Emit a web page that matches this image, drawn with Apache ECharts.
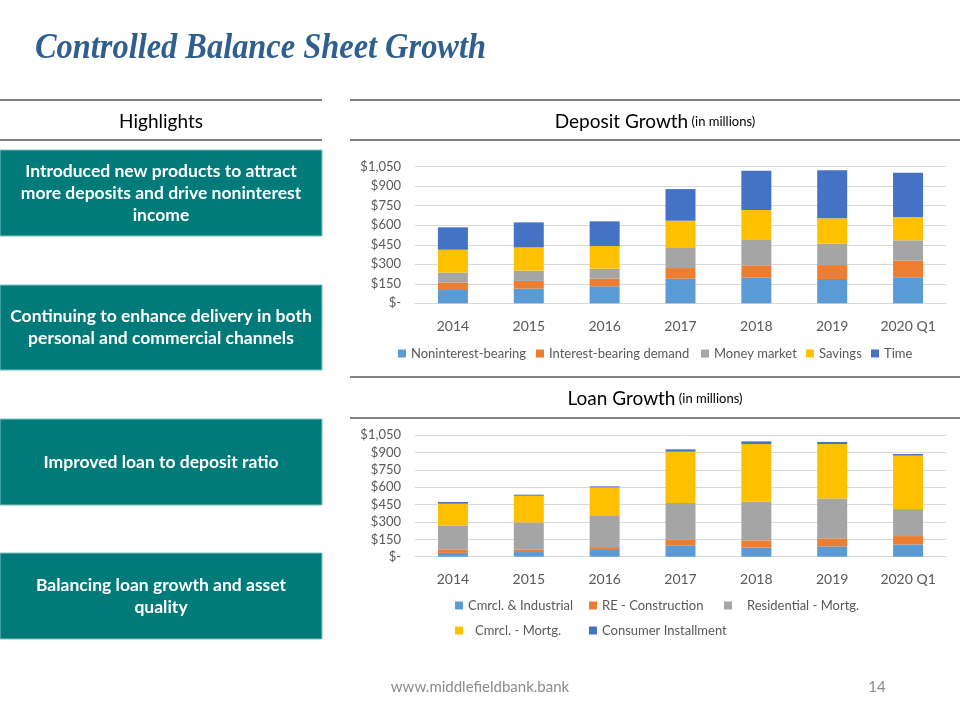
<!DOCTYPE html>
<html><head><meta charset="utf-8">
<script src="https://cdn.jsdelivr.net/npm/echarts@6/dist/echarts.min.js"></script>
<style>html,body{margin:0;padding:0;background:#fff}#c{width:960px;height:720px}</style>
</head><body><div id="c"></div>
<script>
const years = ['2014','2015','2016','2017','2018','2019','2020 Q1'];
const yTicks = [0,150,300,450,600,750,900,1050];

const depositNames = ['Noninterest-bearing','Interest-bearing demand','Money market','Savings','Time'];
const depNoninterest = [102,113,131,189,197,187,200];
const depInterestDemand = [57,59,58,82,95,107,128];
const depMoneyMarket = [77,79,77,154,195,164,156];
const depSavings = [176,179,174,210,230,195,179];
const depTime = [172,192,190,243,302,369,341];

const loanNames = ['Cmrcl. & Industrial','RE - Construction','Residential - Mortg.','Cmrcl. - Mortg.','Consumer Installment'];
const loanCI = [33,40,58,98,78,89,106];
const loanRE = [30,20,25,49,63,69,72];
const loanRes = [207,236,268,316,334,345,233];
const loanCM = [187,230,247,443,497,469,461];
const loanConsumer = [15,9,9,20,23,18,14];

const highlights = [
  'Introduced new products to attract\nmore deposits and drive noninterest\nincome',
  'Continuing to enhance delivery in both\npersonal and commercial channels',
  'Improved loan to deposit ratio',
  'Balancing loan growth and asset\nquality'
];

const colors = ['#5B9BD5','#ED7D31','#A5A5A5','#FFC000','#4472C4'];
const FONT = 'Lato, "Open Sans", sans-serif';

const chart = echarts.init(document.getElementById('c'), null, {renderer:'canvas'});

function yAxis(gi){
  return {type:'value', gridIndex:gi, min:yTicks[0], max:yTicks[yTicks.length-1], interval:yTicks[1]-yTicks[0],
    axisLine:{show:false}, axisTick:{show:false},
    splitLine:{lineStyle:{color:'#D9D9D9', width:1}},
    axisLabel:{color:'#595959', fontFamily:FONT, fontSize:13, margin:14,
      formatter:v => v===0 ? '$-' : '$' + v.toLocaleString('en-US')}};
}
function xAxis(gi){
  return {type:'category', gridIndex:gi, data:years,
    axisLine:{lineStyle:{color:'#D9D9D9'}}, axisTick:{show:false},
    axisLabel:{color:'#595959', fontFamily:FONT, fontSize:14, margin:16}};
}

const depData = [depNoninterest, depInterestDemand, depMoneyMarket, depSavings, depTime];
const loanData = [loanCI, loanRE, loanRes, loanCM, loanConsumer];

const series = [];
depositNames.forEach((n,i)=>series.push({name:n, type:'bar', stack:'dep', xAxisIndex:0, yAxisIndex:0,
  data:depData[i], barWidth:30, itemStyle:{color:colors[i]}}));
loanNames.forEach((n,i)=>series.push({name:n, type:'bar', stack:'loan', xAxisIndex:1, yAxisIndex:1,
  data:loanData[i], barWidth:30, itemStyle:{color:colors[i]}}));

function leg(name, left, top, textPad){
  return {data:[name], left:left, top:top, padding:0, itemWidth:8, itemHeight:8, icon:'rect',
    selectedMode:false,
    textStyle:{color:'#595959', fontFamily:FONT, fontSize:13, padding:[0,0,0,textPad||0]}};
}

const legends = [
  leg(depositNames[0], 398, 347),
  leg(depositNames[1], 536, 347),
  leg(depositNames[2], 701, 347),
  leg(depositNames[3], 806, 347),
  leg(depositNames[4], 871, 347),
  leg(loanNames[0], 455, 599),
  leg(loanNames[1], 589, 599),
  leg(loanNames[2], 724, 599, 10),
  leg(loanNames[3], 455, 624, 7),
  leg(loanNames[4], 589, 624)
];

const boxes = [[150,236],[285,370],[419,505],[553,639]];
const graphic = [];
graphic.push({type:'text', x:35, y:49, scaleX:0.9, style:{text:'Controlled Balance Sheet Growth',
  font:'italic bold 36px "Liberation Serif", "Times New Roman", serif', fill:'#2E5F8F', verticalAlign:'middle'}});
[[0,322],[350,960]].forEach(([a,b])=>{
  [100,140].forEach(y=>graphic.push({type:'line', shape:{x1:a,y1:y,x2:b,y2:y}, style:{stroke:'#595959', lineWidth:1.5}}));
});
[377,418].forEach(y=>graphic.push({type:'line', shape:{x1:350,y1:y,x2:960,y2:y}, style:{stroke:'#595959', lineWidth:1.5}}));
graphic.push({type:'text', x:161, y:122, style:{text:'Highlights', font:'19px '+FONT, fill:'#000', align:'center', verticalAlign:'middle'}});
graphic.push({type:'text', x:655, y:122, style:{text:'{a|Deposit Growth} {b|(in millions)}', align:'center', verticalAlign:'middle',
  rich:{a:{fontFamily:FONT, fontSize:19, fill:'#000'}, b:{fontFamily:FONT, fontSize:13, fill:'#000'}}}});
graphic.push({type:'text', x:655, y:399, style:{text:'{a|Loan Growth} {b|(in millions)}', align:'center', verticalAlign:'middle',
  rich:{a:{fontFamily:FONT, fontSize:19, fill:'#000'}, b:{fontFamily:FONT, fontSize:13, fill:'#000'}}}});
boxes.forEach(([t,b],i)=>{
  graphic.push({type:'rect', shape:{x:0,y:t,width:322,height:b-t}, style:{fill:'#007B7A', stroke:'#7FC4C2', lineWidth:1}});
  graphic.push({type:'text', x:161, y:(t+b)/2, style:{text:highlights[i], font:'bold 17.5px '+FONT, fill:'#fff',
    align:'center', verticalAlign:'middle', lineHeight:22}});
});
graphic.push({type:'text', x:480, y:687, style:{text:'www.middlefieldbank.bank', font:'15px '+FONT, fill:'#8C8C8C', align:'center', verticalAlign:'middle'}});
graphic.push({type:'text', x:877, y:687, style:{text:'14', font:'15px '+FONT, fill:'#8C8C8C', align:'center', verticalAlign:'middle'}});

chart.setOption({
  animation:false,
  textStyle:{fontFamily:FONT},
  grid:[{left:415, right:14, top:166.7, height:136.6},{left:415, right:14, top:435, height:121.7}],
  xAxis:[xAxis(0), xAxis(1)],
  yAxis:[yAxis(0), yAxis(1)],
  legend:legends,
  series:series,
  graphic:graphic
});
</script></body></html>
